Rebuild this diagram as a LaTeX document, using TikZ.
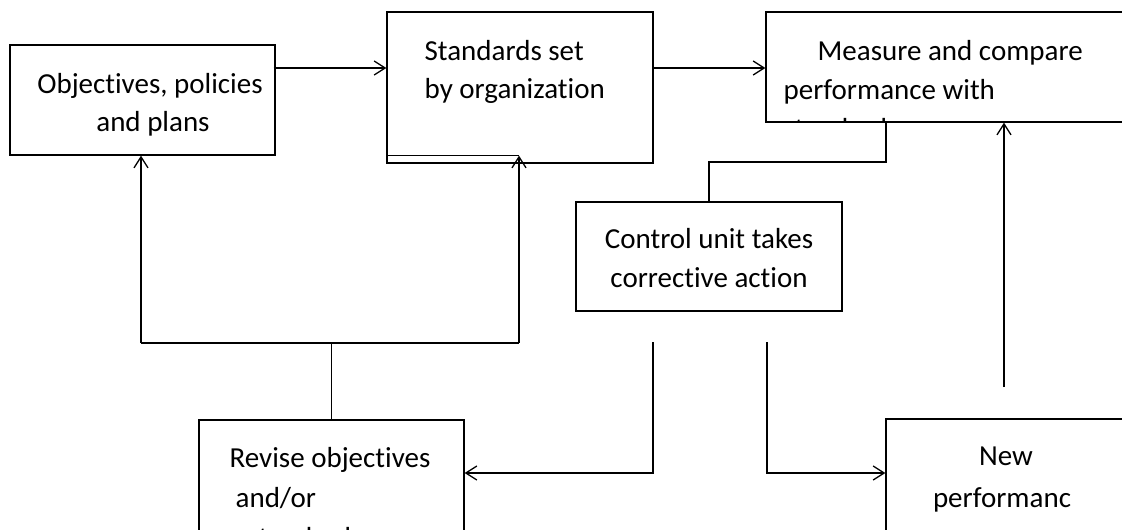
\documentclass[tikz,border=0pt]{standalone}
\usepackage{fontspec}
\setmainfont{Carlito}[Ligatures=NoCommon]
\usetikzlibrary{arrows.meta,calc}
\begin{document}
\begin{tikzpicture}[x=1pt,y=-1pt,
  line width=1.3pt,
  box/.style={draw, rectangle, inner sep=0pt, line width=1.3pt},
  lbl/.style={anchor=base west, inner sep=0pt, font=\fontsize{29}{39}\selectfont},
  clbl/.style={anchor=base, inner sep=0pt, font=\fontsize{29}{39}\selectfont},
  arr/.style={-{Straight Barb[length=11pt,width=14pt,line width=1.3pt]}},
]
\useasboundingbox (0,0) rectangle (1122,530);
\clip (0,0) rectangle (1122,530);

% boxes
\node[box, minimum width=265pt, minimum height=110pt] (A) at (142.5,100) {};
\node[box, minimum width=266pt, minimum height=151pt] (B) at (520,87.5) {};
\node[box, minimum width=364pt, minimum height=110pt] (C) at (948,67) {};
\node[box, minimum width=266pt, minimum height=109pt] (D) at (709,256.5) {};
\node[box, minimum width=265pt, minimum height=140pt] (E) at (331.5,490) {};
\node[box, minimum width=244pt, minimum height=141pt] (F) at (1008,489.5) {};

% texts
\node[clbl] (tA1) at (150,93) {Objectives, policies};
\node[clbl] (tA2) at (153,131) {and plans};
\node[lbl] (tB1) at (424,60) {Standards set};
\node[lbl] (tB2) at (424,98) {by organization};
\node[lbl] (tC1) at (817,60) {Measure and compare};
\node[lbl] (tC2) at (783,99) {performance with};
\begin{scope}
  \clip (C.north west) rectangle (C.south east);
  \node[lbl] (tC3) at (783,138) {standards};
\end{scope}
\node[clbl] (tD1) at (709,248) {Control unit takes};
\node[clbl] (tD2) at (709,287) {corrective action};
\node[lbl] (tE1) at (229,467) {Revise objectives};
\node[lbl] (tE2) at (235,507) {and/or};
\node[lbl] (tE3) at (247,547) {standards};
\node[clbl] (tF1) at (1006,465) {New};
\node[clbl] (tF2) at (1002,507) {performanc};

% coordinates
\coordinate (uL) at (141,343);
\coordinate (uR) at (519,343);
\coordinate (cd1) at (886,162);
\coordinate (cd2) at (709,162);
\coordinate (l1) at (653,342);
\coordinate (l2) at (767,342);
\coordinate (fv) at (1004,387);

% connectors
\draw[arr] ($(A.east)+(-2,-32)$) -- ($(B.west)+(0,-19.5)$);
\draw[arr] ($(B.east)+(0,-19.5)$) -- ($(C.west)+(0,1)$);
\draw ($(B.south west)+(2,-8)$) -- ($(B.south west)+(133,-8)$);
\draw[arr] (uL) -- (uL |- A.south);
\draw[arr] (uR) -- ($(uR |- B.south)+(0,-8)$);
\draw (uL) -- (uR);
\draw (E.north) -- (E.north |- uL);
\draw (cd1 |- C.south) -- (cd1) -- (cd2) -- (cd2 |- D.north);
\draw[arr] (l1) |- ($(E.east)+(0,-17)$);
\draw[arr] (l2) |- ($(F.west)+(0,-16.5)$);
\draw[arr] (fv) -- (fv |- C.south);
\end{tikzpicture}
\end{document}
